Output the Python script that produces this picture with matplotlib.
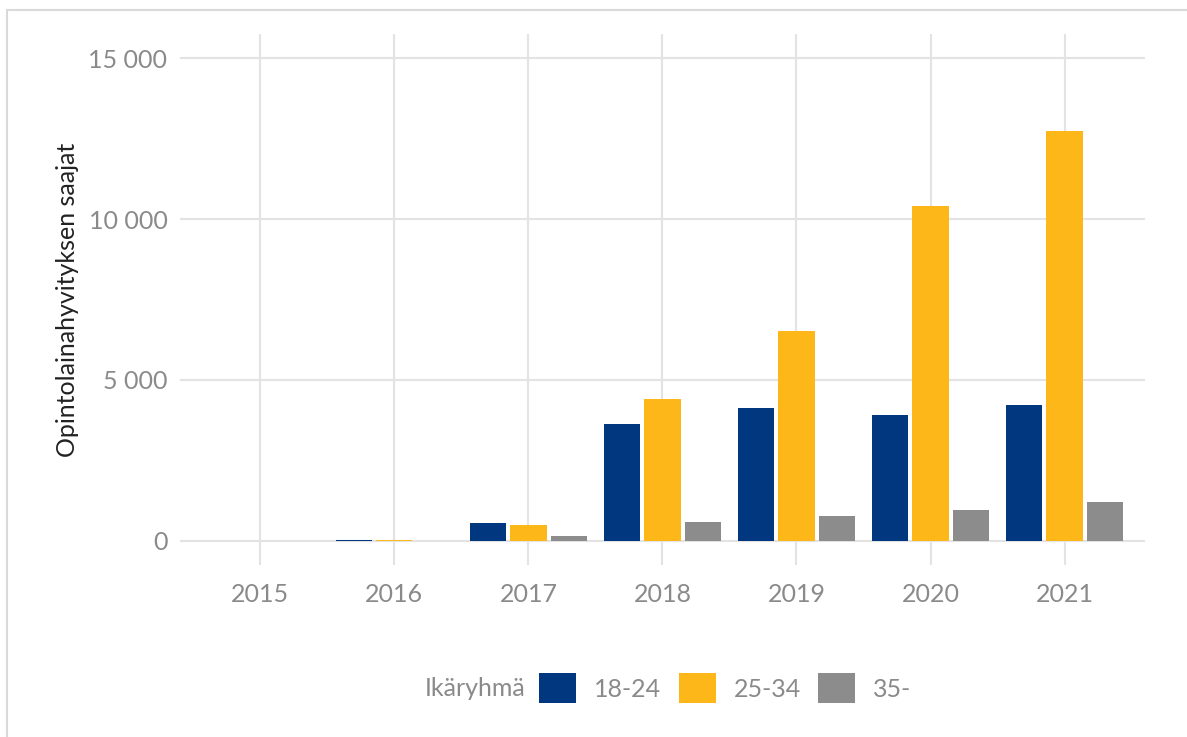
import numpy as np
import matplotlib
matplotlib.use("Agg")
import matplotlib.pyplot as plt
from matplotlib.patches import Patch, Rectangle

plt.rcParams['font.family'] = ['Lato', 'DejaVu Sans']
plt.rcParams['font.weight'] = 'normal'

years = ['2015', '2016', '2017', '2018', '2019', '2020', '2021']
groups = ['18-24', '25-34', '35-']
vals_18_24 = [0, 20, 560, 3630, 4130, 3910, 4220]
vals_25_34 = [0, 15, 500, 4410, 6520, 10400, 12730]
vals_35 = [0, 10, 150, 590, 780, 960, 1220]
colors = ['#00377e', '#fdb718', '#8c8c8c']

yticks = [0, 5000, 10000, 15000]
ytick_labels = ['0', '5 000', '10 000', '15 000']

fig = plt.figure(figsize=(11.87, 7.37), dpi=100)
ax = fig.add_axes([0.1516, 0.2334, 0.813, 0.7205])

x = np.arange(len(years))
step = 0.9 / 3
for i, (vals, c) in enumerate(zip([vals_18_24, vals_25_34, vals_35], colors)):
    ax.bar(x + (i - 1) * step, vals, width=0.27, color=c, linewidth=0,
           label=groups[i], zorder=3)

ax.set_xlim(-0.6, 6.6)
ax.set_ylim(-750, 15750)
ax.set_xticks(x)
ax.set_xticklabels(years)
ax.set_yticks(yticks)
ax.set_yticklabels(ytick_labels)
ax.grid(True, color='#e3e3e3', linewidth=1.5, zorder=0)
for s in ax.spines.values():
    s.set_visible(False)
ax.tick_params(length=0, labelsize=18, labelcolor='#8a8a8a')
ax.tick_params(axis='y', pad=9)
ax.tick_params(axis='x', pad=13)
ax.set_ylabel('Opintolainahyvityksen saajat', fontsize=18, color='#222222', labelpad=7)

handles = [Patch(facecolor=c, edgecolor='none') for c in colors]
fig.text(0.4423, 0.066, 'Ikäryhmä', fontsize=18, color='#8a8a8a', ha='right', va='center')
fig.legend(handles, groups, loc='center left', bbox_to_anchor=(0.4355, 0.066), ncol=3,
           frameon=False, fontsize=18, labelcolor='#8a8a8a', handlelength=1.48,
           handleheight=1.48, handletextpad=0.72, columnspacing=0.68)

# figure frame
fig.patches.append(Rectangle((7 / 1187, -0.1), 1.2, 1 - 10 / 737 + 0.1, transform=fig.transFigure,
                             fill=False, edgecolor='#d9d9d9', linewidth=1.5))

fig.savefig('out.png', dpi=100)
